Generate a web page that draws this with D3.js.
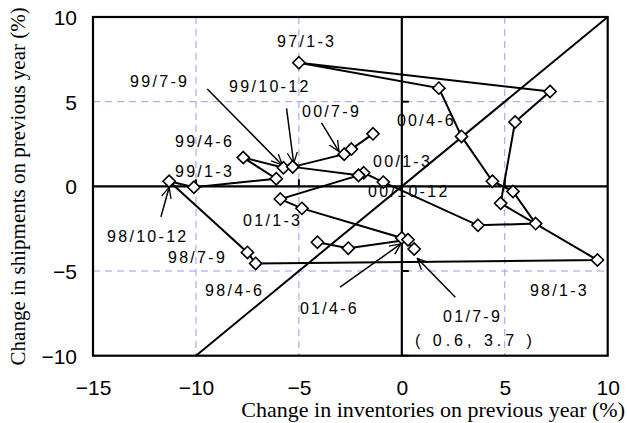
<!DOCTYPE html>
<html><head><meta charset="utf-8">
<script src="https://cdn.jsdelivr.net/npm/d3@7"></script>
<style>body{margin:0;background:#fff}svg{display:block}</style>
</head><body>
<script>
// points in drawing order: [change in inventories %, change in shipments %]; null = break in the line
const invChange = [-1.4,-2.45,-2.8,-5.3,-5.75,-7.7,-6.1,-10.1,-11.3,-7.5,-7.1,9.5,4.8,5.5,7.2,-5.0,1.8,2.9,4.4,5.4,6.5,3.7,-0.9,-1.85,-2.1,-5.9,-4.85,0.0,0.6,null,-4.1,-2.6,0.3,null,-5.3,-2.1];
const shipChange = [3.1,2.2,1.9,1.15,1.1,1.7,0.45,-0.05,0.3,-3.9,-4.55,-4.35,-1.0,3.8,5.6,7.3,5.8,2.95,0.3,-0.3,-2.2,-2.3,0.25,0.8,0.65,-0.75,-1.3,-3.05,-3.7,null,-3.3,-3.65,-3.15,null,1.15,0.65];
const xTicks = [-15,-10,-5,0,5,10];
const yTicks = [-10,-5,0,5,10];
const gridX = [-10,-5,5];
const gridY = [-5,5];
// labels: text, x, y (data units, text start, baseline)
const labelText = ["97/1-3","99/7-9","99/10-12","00/7-9","00/4-6","99/4-6","00/1-3","99/1-3","00/10-12","98/10-12","01/1-3","98/7-9","98/4-6","01/4-6","01/7-9","( 0.6,  3.7 )","98/1-3"];
const labelX = [-6.06,-13.2,-8.39,-4.85,-0.24,-11.02,-1.4,-11.02,-1.64,-14.32,-7.71,-11.36,-9.56,-4.95,2.0,0.64,6.22];
const labelY = [8.22,5.86,5.56,4.09,3.56,2.32,1.14,0.55,-0.63,-3.29,-2.34,-4.53,-6.47,-7.54,-8.0,-9.42,-6.47];
// arrows: from (x1,y1) to (x2,y2) in data units
const arrowX1 = [-11.7,-9.45,-5.6,-3.9,-3.0,2.6];
const arrowY1 = [-1.8,5.75,4.6,3.75,-5.95,-6.55];
const arrowX2 = [-11.3,-5.8,-5.25,-3.05,-0.05,0.75];
const arrowY2 = [-0.05,1.25,1.35,2.05,-3.4,-4.25];

const W = 627, H = 423;
const m = {l:93, r:19.3, t:17, b:67.3};
const svg = d3.select("body").append("svg").attr("width",W).attr("height",H);
const x = d3.scaleLinear().domain([-15,10]).range([m.l, W-m.r]);
const y = d3.scaleLinear().domain([-10,10]).range([H-m.b, m.t]);

const defs = svg.append("defs");
defs.append("marker").attr("id","ah").attr("viewBox","0 0 12 12").attr("refX",11).attr("refY",6)
  .attr("markerWidth",12).attr("markerHeight",12).attr("markerUnits","userSpaceOnUse").attr("orient","auto")
  .append("path").attr("d","M0,1 L11,6 L0,11").attr("fill","none").attr("stroke","#000").attr("stroke-width",1.3);

// grid
svg.append("g").selectAll("line").data(gridX).join("line")
  .attr("x1",d=>x(d)).attr("x2",d=>x(d)).attr("y1",y(10)).attr("y2",y(-10))
  .attr("stroke","#9a9af5").attr("stroke-width",1).attr("stroke-dasharray","7,5");
svg.append("g").selectAll("line").data(gridY).join("line")
  .attr("y1",d=>y(d)).attr("y2",d=>y(d)).attr("x1",x(-15)).attr("x2",x(10))
  .attr("stroke","#9a9af5").attr("stroke-width",1).attr("stroke-dasharray","7,5");

// zero axes
svg.append("line").attr("x1",x(0)).attr("x2",x(0)).attr("y1",y(10)).attr("y2",y(-10)).attr("stroke","#000").attr("stroke-width",2.2);
svg.append("line").attr("y1",y(0)).attr("y2",y(0)).attr("x1",x(-15)).attr("x2",x(10)).attr("stroke","#000").attr("stroke-width",2.2);
svg.append("g").selectAll("line").data([-10,-5,5,10]).join("line")
  .attr("x1",x(0)).attr("x2",x(0)+7).attr("y1",d=>y(d)).attr("y2",d=>y(d)).attr("stroke","#000").attr("stroke-width",2);
svg.append("g").selectAll("line").data([-10,-5,5]).join("line")
  .attr("x1",d=>x(d)).attr("x2",d=>x(d)).attr("y1",y(0)).attr("y2",y(0)-7).attr("stroke","#000").attr("stroke-width",2);

// 45 degree line
svg.append("line").attr("x1",x(-10)).attr("y1",y(-10)).attr("x2",x(10)).attr("y2",y(10)).attr("stroke","#000").attr("stroke-width",2);

// frame
svg.append("rect").attr("x",x(-15)).attr("y",y(10)).attr("width",x(10)-x(-15)).attr("height",y(-10)-y(10))
  .attr("fill","none").attr("stroke","#000").attr("stroke-width",2.2);

// tick labels
const xa = d3.axisBottom(x).tickValues(xTicks).tickSize(0).tickPadding(0).tickFormat(d3.format("d"));
const gx = svg.append("g").attr("transform",`translate(0,${y(-10)+39})`).call(xa);
gx.select(".domain").remove();
gx.selectAll("text").attr("font-family","Liberation Sans, Arial").attr("font-size",21).attr("fill","#000").attr("dy",0);
const ya = d3.axisLeft(y).tickValues(yTicks).tickSize(0).tickPadding(0).tickFormat(d3.format("d"));
const gy = svg.append("g").attr("transform",`translate(${x(-15)-16},0)`).call(ya);
gy.select(".domain").remove();
gy.selectAll("text").attr("font-family","Liberation Sans, Arial").attr("font-size",21).attr("fill","#000").attr("dy","0.36em");

// data path
const pts = invChange.map((v,i)=>[v, shipChange[i]]);
const ok = d => d[0] !== null && d[1] !== null;
svg.append("path").datum(pts).attr("d", d3.line().defined(ok).x(d=>x(d[0])).y(d=>y(d[1])))
  .attr("fill","none").attr("stroke","#000").attr("stroke-width",2);

// arrows
svg.append("g").selectAll("line").data(arrowX1).join("line")
  .attr("x1",(d,i)=>x(arrowX1[i])).attr("y1",(d,i)=>y(arrowY1[i]))
  .attr("x2",(d,i)=>x(arrowX2[i])).attr("y2",(d,i)=>y(arrowY2[i]))
  .attr("stroke","#000").attr("stroke-width",1.5).attr("marker-end","url(#ah)");

// markers
svg.append("g").selectAll("path").data(pts.filter(ok)).join("path")
  .attr("d", d3.symbol().type(d3.symbolDiamond2).size(95))
  .attr("transform", d=>`translate(${x(d[0])},${y(d[1])})`)
  .attr("fill","#fff").attr("stroke","#000").attr("stroke-width",1.6);

// labels
svg.append("g").selectAll("text").data(labelText).join("text")
  .attr("x",(d,i)=>x(labelX[i])).attr("y",(d,i)=>y(labelY[i]))
  .attr("font-family","Liberation Sans, Arial").attr("font-size",16)
  .attr("letter-spacing",d=>d.startsWith("(") ? 4 : 2.3)
  .attr("fill","#000").text(d=>d);

// titles
svg.append("text").attr("x",W-2).attr("y",417).attr("text-anchor","end")
  .attr("font-family","Liberation Serif, Times New Roman, serif").attr("font-size",22).text("Change in inventories on previous year (%)");
svg.append("text").attr("transform",`translate(25,${y(0)}) rotate(-90)`).attr("text-anchor","middle")
  .attr("font-family","Liberation Serif, Times New Roman, serif").attr("font-size",21).text("Change in shipments on previous year (%)");
</script>
</body></html>
